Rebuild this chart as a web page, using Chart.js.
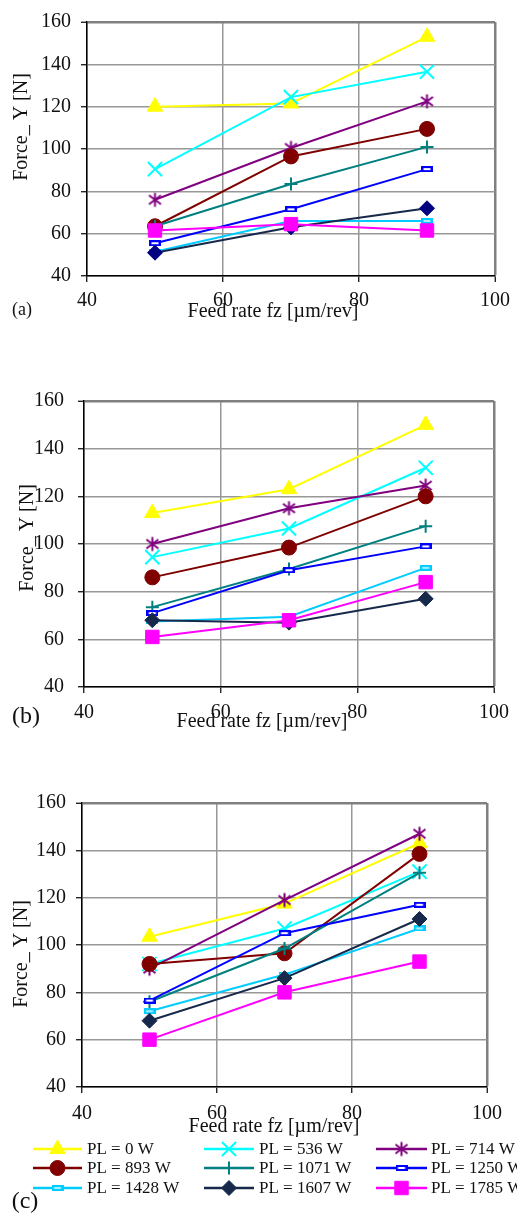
<!DOCTYPE html>
<html>
<head>
<meta charset="utf-8">
<script src="https://cdn.jsdelivr.net/npm/chart.js@4.4.1/dist/chart.umd.min.js"></script>
<style>
  html, body { margin: 0; padding: 0; background: #fff; }
  #wrap { position: relative; width: 517px; height: 1213px; overflow: hidden; }
  canvas { position: absolute; left: 0; }
</style>
</head>
<body>
<div id="wrap">
  <canvas id="panelA" width="517" height="340" style="top:0px"></canvas>
  <canvas id="panelB" width="517" height="420" style="top:340px"></canvas>
  <canvas id="panelC" width="517" height="453" style="top:760px"></canvas>
</div>
<script>
// Feed rate fz [µm/rev] and laser power PL [W]
const feedRates = [50, 70, 90];
const laserPowers = [0, 536, 714, 893, 1071, 1250, 1428, 1607, 1785];
const xTicks = [40, 60, 80, 100];
const yTicks = [40, 60, 80, 100, 120, 140, 160];

// Force_Y [N], one row per laser power, panel (a)
const forceA = [
  [120, 121.5, 153],
  [90.5, 124.5, 136.5],
  [76, 100.5, 122.5],
  [63.5, 96.5, 109.5],
  [63.5, 83.5, 101],
  [55.5, 71.5, 90.5],
  [51.5, 66, 66],
  [51, 63, 72],
  [61.5, 64.5, 61.5]
];

// Force_Y [N], panel (b)
const forceB = [
  [113, 123, 150],
  [94.5, 106.5, 132],
  [100, 115, 124.5],
  [86, 98.5, 120],
  [73.5, 89.5, 107.5],
  [71, 89, 99],
  [67.5, 69.5, 90],
  [68, 67, 77],
  [61, 68, 84]
];

// Force_Y [N], panel (c)
const forceC = [
  [103.5, 117.5, 143],
  [92, 107, 131],
  [90, 119, 147],
  [92, 96.5, 138.5],
  [76, 98.5, 130.5],
  [76.5, 105, 117],
  [72, 87.5, 107],
  [68, 86, 111],
  [60, 80, 93]
];

const serifFont = "'Liberation Serif', 'Times New Roman', serif";

// Asterisk marker: vertical bar plus an X
function makeAsterisk(color) {
  const c = document.createElement('canvas');
  c.width = 17; c.height = 17;
  const g = c.getContext('2d');
  g.strokeStyle = color; g.lineWidth = 2;
  g.beginPath();
  g.moveTo(8.5, 1.5); g.lineTo(8.5, 15.5);
  g.moveTo(2.5, 4); g.lineTo(14.5, 13);
  g.moveTo(14.5, 4); g.lineTo(2.5, 13);
  g.stroke();
  return c;
}

// Short flat bar marker with a lighter core
function makeDash(color, core) {
  const c = document.createElement('canvas');
  c.width = 12; c.height = 6;
  const g = c.getContext('2d');
  g.fillStyle = color; g.fillRect(0, 0, 12, 6);
  g.fillStyle = core; g.fillRect(2.5, 2, 7, 2);
  return c;
}

const seriesStyles = [
  { color: '#ffff00', point: 'triangle', radius: 9 },
  { color: '#00ffff', point: 'crossRot', radius: 10, width: 2 },
  { color: '#800080', point: makeAsterisk('#800080') },
  { color: '#800000', point: 'circle', radius: 7.5 },
  { color: '#008080', point: 'cross', radius: 6.5, width: 2 },
  { color: '#0000ff', point: makeDash('#0000ff', '#ffffff') },
  { color: '#00ccff', point: makeDash('#00ccff', '#a6efff') },
  { color: '#17294a', point: 'rectRot', radius: 7.5 },
  { color: '#ff00ff', point: 'rect', radius: 9.5 }
];

function buildDatasets(values, markerColors) {
  return values.map((row, i) => {
    const s = seriesStyles[i];
    const mc = (markerColors && markerColors[i]) || s.color;
    return {
      label: 'PL = ' + laserPowers[i] + ' W',
      data: row.map((y, k) => ({ x: feedRates[k], y: y })),
      borderColor: s.color,
      backgroundColor: mc,
      borderWidth: 2,
      pointStyle: s.point,
      pointRadius: s.radius || 8,
      pointBorderColor: mc,
      pointBackgroundColor: mc,
      pointBorderWidth: s.width || 1,
      tension: 0,
      clip: false,
      order: values.length - i
    };
  });
}

// Inner grid lines are light; the top and right frame lines are heavier
function gridStyle(frameValue) {
  return {
    color: ctx => (ctx.tick && ctx.tick.value === frameValue) ? '#808080' : '#989898',
    lineWidth: ctx => (ctx.tick && ctx.tick.value === frameValue) ? 2.5 : 1.5,
    tickLength: 6, tickColor: '#000', tickWidth: 1.2
  };
}

function buildScales(box) {
  const tickFont = { family: serifFont, size: 20 };
  return {
    x: {
      type: 'linear', min: 40, max: 100,
      afterBuildTicks: sc => { sc.ticks = xTicks.map(v => ({ value: v })); },
      afterFit: sc => { sc.height = box.xAxisHeight; },
      grid: gridStyle(100),
      border: { color: '#000', width: 1.5 },
      ticks: { font: tickFont, color: '#111', padding: box.xPad, maxRotation: 0, autoSkip: false }
    },
    y: {
      type: 'linear', min: 40, max: 160,
      afterBuildTicks: sc => { sc.ticks = yTicks.map(v => ({ value: v })); },
      afterFit: sc => { sc.width = box.left; },
      grid: gridStyle(160),
      border: { color: '#000', width: 1.5 },
      ticks: { font: tickFont, color: '#111', padding: box.yPad }
    }
  };
}

// Axis titles and the panel tag
const panelText = {
  id: 'panelText',
  afterDraw(chart, args, o) {
    const ctx = chart.ctx;
    ctx.save();
    ctx.fillStyle = '#111';
    ctx.textAlign = 'center';
    ctx.textBaseline = 'middle';
    ctx.font = '20px ' + serifFont;
    ctx.fillText('Feed rate fz [\u00b5m/rev]', o.xTitleX, o.xTitleY);
    ctx.save();
    ctx.translate(o.yTitleX, o.yTitleY);
    ctx.rotate(-Math.PI / 2);
    ctx.fillText('Force_ Y [N]', 0, 0);
    ctx.restore();
    ctx.font = o.tagSize + 'px ' + serifFont;
    ctx.fillText(o.tag, o.tagX, o.tagY);
    ctx.restore();
  }
};

// Three-column legend under the last panel
const gridLegend = {
  id: 'gridLegend',
  afterDraw(chart, args, o) {
    if (!o.show) return;
    const ctx = chart.ctx;
    ctx.save();
    chart.data.datasets.forEach((ds, i) => {
      const row = Math.floor(i / 3), col = i % 3;
      const y = o.rows[row];
      const x0 = o.lineStart[col], x1 = o.lineEnd[col];
      ctx.strokeStyle = ds.borderColor;
      ctx.lineWidth = 2.5;
      ctx.beginPath();
      ctx.moveTo(x0, y); ctx.lineTo(x1, y);
      ctx.stroke();
      ctx.fillStyle = ds.pointBackgroundColor;
      ctx.strokeStyle = ds.pointBorderColor;
      ctx.lineWidth = ds.pointBorderWidth;
      Chart.helpers.drawPoint(ctx, {
        pointStyle: ds.pointStyle, radius: ds.pointRadius, rotation: 0, borderWidth: ds.pointBorderWidth
      }, (x0 + x1) / 2, y);
      ctx.fillStyle = '#111';
      ctx.font = '17px ' + serifFont;
      ctx.textAlign = 'left';
      ctx.textBaseline = 'middle';
      ctx.fillText(ds.label, o.textX[col], y + 1);
    });
    ctx.restore();
  }
};

function makeChart(id, values, box, text, legend, markerColors) {
  return new Chart(document.getElementById(id), {
    type: 'line',
    data: { datasets: buildDatasets(values, markerColors) },
    options: {
      responsive: false,
      animation: false,
      devicePixelRatio: 1,
      layout: { padding: { left: 0, top: box.top, right: box.right, bottom: 0 } },
      scales: buildScales(box),
      plugins: {
        legend: { display: false },
        tooltip: { enabled: false },
        panelText: text,
        gridLegend: legend
      }
    },
    plugins: [panelText, gridLegend]
  });
}

const navyMarkerA = [null, null, null, null, null, null, null, '#000080', null];

makeChart('panelA', forceA,
  { left: 87, top: 13, right: 16, xAxisHeight: 64, xPad: 7, yPad: 10 },
  { xTitleX: 273, xTitleY: 312, yTitleX: 22, yTitleY: 127, tag: '(a)', tagSize: 18, tagX: 22, tagY: 310 },
  { show: false }, navyMarkerA);

makeChart('panelB', forceB,
  { left: 84, top: 61, right: 20, xAxisHeight: 73, xPad: 8, yPad: 14 },
  { xTitleX: 262, xTitleY: 382, yTitleX: 28, yTitleY: 198, tag: '(b)', tagSize: 24, tagX: 26, tagY: 377 },
  { show: false });

makeChart('panelC', forceC,
  { left: 82, top: 43, right: 30, xAxisHeight: 126, xPad: 9, yPad: 10 },
  { xTitleX: 274, xTitleY: 367, yTitleX: 22, yTitleY: 194, tag: '(c)', tagSize: 24, tagX: 25, tagY: 442 },
  { show: true, rows: [389, 408, 428], lineStart: [33, 204, 376], lineEnd: [82, 254, 427], textX: [87, 259, 431] });
</script>
</body>
</html>
